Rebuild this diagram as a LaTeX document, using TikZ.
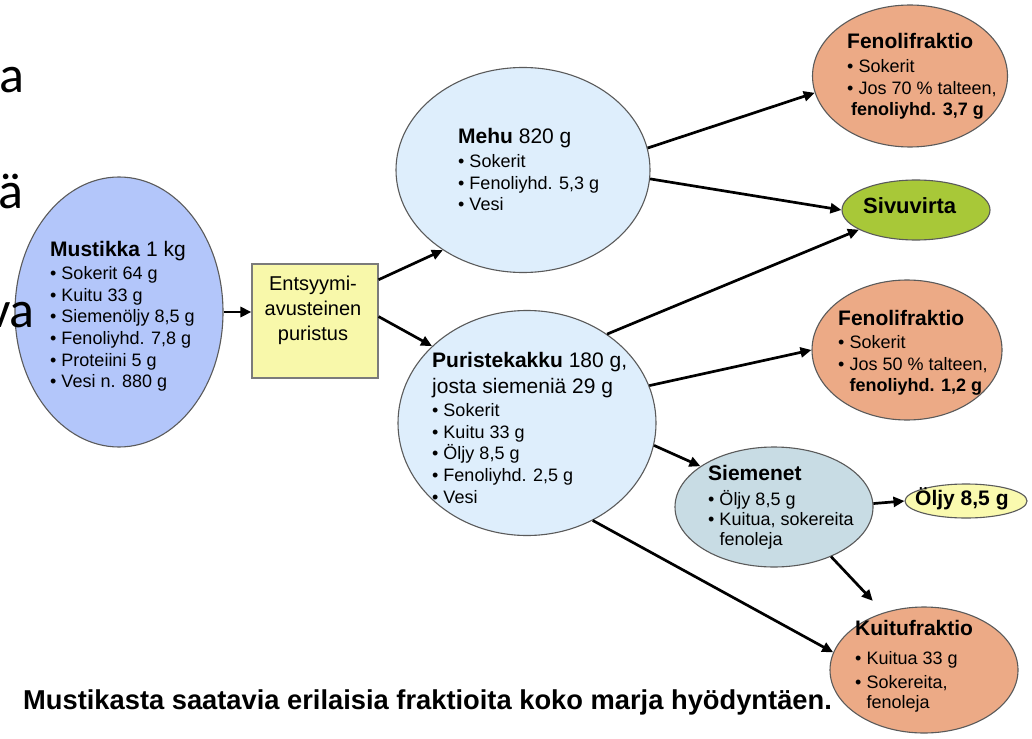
\documentclass[tikz,border=0pt]{standalone}
\usepackage{fontspec}
\setmainfont{Liberation Sans}
\newfontfamily\slidefont{Carlito}
\usepackage{tikz}
\usetikzlibrary{arrows.meta,shapes.geometric}
\definecolor{bc}{HTML}{B3C6FA}
\definecolor{jc}{HTML}{DEEEFC}
\definecolor{fc}{HTML}{ECAA86}
\definecolor{gc}{HTML}{A8C838}
\definecolor{sc}{HTML}{C8DCE4}
\definecolor{oc}{HTML}{FAFAAF}
\definecolor{yc}{HTML}{F8F8AA}
\definecolor{lc}{HTML}{5A5A5A}
\newcommand{\fhead}[2]{{\fontsize{21}{25}\selectfont\textbf{#1}#2}}
\newcommand{\itm}{\textbullet\ }
\newcommand{\bind}{\hphantom{\textbullet\ }}

\begin{document}
\begin{tikzpicture}[
    x=1pt, y=-1pt,
    blob/.style={ellipse, draw=lc, line width=1.1pt, inner sep=0pt},
    proc/.style={draw=lc!80, fill=yc, line width=1.1pt, inner sep=0pt},
    txt/.style={align=left, anchor=north west, inner sep=0pt,
                font=\fontsize{18}{21.7}\selectfont},
    tag/.style={anchor=base west, inner sep=0pt,
                font=\fontsize{21}{25}\selectfont\bfseries},
    ar/.style={-{Triangle[length=11pt,width=10pt]}, line width=2.7pt},
    capt/.style={anchor=base west, inner sep=0pt,
                 font=\fontsize{27.3}{31}\selectfont\bfseries},
    frag/.style={anchor=base east, inner sep=0pt,
                 font=\slidefont\fontsize{52}{60}\selectfont}
]
\useasboundingbox (0,0) rectangle (1032,738);
\clip (0,0) rectangle (1032,738);
\fill[white] (0,0) rectangle (1032,738);

\node[blob, fill=bc, minimum width=208pt, minimum height=270pt] (must) at (119,312) {};
\node[proc, minimum width=126pt, minimum height=114pt]          (press) at (315,321) {};
\node[blob, fill=jc, minimum width=254pt, minimum height=205pt] (mehu) at (523,170) {};
\node[blob, fill=jc, minimum width=258pt, minimum height=225pt] (puri) at (527,423) {};
\node[blob, fill=fc, minimum width=195pt, minimum height=142pt] (fen1) at (910,76) {};
\node[blob, fill=gc, minimum width=148pt, minimum height=60pt]  (sivu) at (916,210) {};
\node[blob, fill=fc, minimum width=190pt, minimum height=140pt] (fen2) at (907,350) {};
\node[blob, fill=sc, minimum width=198pt, minimum height=120pt] (seed) at (774,507) {};
\node[blob, fill=oc, minimum width=122pt, minimum height=34pt]  (oil)  at (966,501) {};
\node[blob, fill=fc, minimum width=188pt, minimum height=126pt] (kuit) at (924,670) {};

\node[frag] (fragA) at (25,93)  {a};
\node[frag] (fragB) at (24,208) {ä};
\node[frag] (fragC) at (35,327) {va};

\node[txt] (mustTx) at (50,241) {\fhead{Mustikka}{ 1 kg}\\[1.3pt]
    \itm Sokerit 64 g\\ \itm Kuitu 33 g\\ \itm Siemenöljy 8,5 g\\
    \itm Fenoliyhd. 7,8 g\\ \itm Proteiini 5 g\\ \itm Vesi n. 880 g};
\node[align=center, anchor=north, inner sep=0pt, font=\fontsize{20}{25}\selectfont]
    (pressTx) at (313,275.6) {Entsyymi-\\avusteinen\\puristus};
\node[txt] (mehuTx) at (458,128) {\fhead{Mehu}{ 820 g}\\[2.3pt]
    \itm Sokerit\\ \itm Fenoliyhd. 5,3 g\\ \itm Vesi};
\node[txt] (puriTx) at (432,352) {\fhead{Puristekakku}{ 180 g,}\\[4.3pt]
    \fhead{}{josta siemeniä 29 g}\\[1.3pt]
    \itm Sokerit\\ \itm Kuitu 33 g\\ \itm Öljy 8,5 g\\
    \itm Fenoliyhd. 2,5 g\\ \itm Vesi};
\node[txt] (fen1Tx) at (847,33) {\fhead{Fenolifraktio}{}\\[2.3pt]
    \itm Sokerit\\ \itm Jos 70 \% talteen,\\ \hspace*{4pt}\textbf{fenoliyhd. 3,7 g}};
\node[tag, font=\fontsize{22}{26}\selectfont\bfseries] (sivuTx) at (863,213) {Sivuvirta};
\node[txt] (fen2Tx) at (838,310) {\fhead{Fenolifraktio}{}\\[1.3pt]
    \itm Sokerit\\ \itm Jos 50 \% talteen,\\ \bind\textbf{fenoliyhd. 1,2 g}};
\node[txt] (seedTx) at (708,465) {\fhead{Siemenet}{}\\[3.3pt]
    \itm Öljy 8,5 g\\[-1.7pt] \itm Kuitua, sokereita\\[-1.7pt] \bind fenoleja};
\node[tag] (oilTx) at (915,505) {Öljy 8,5 g};
\node[txt] (kuitTx) at (855,620) {\fhead{Kuitufraktio}{}\\[7.3pt]
    \itm Kuitua 33 g\\[2.3pt] \itm Sokereita,\\[-1.7pt] \bind fenoleja};

\node[capt] (capTx) at (23,709)
    {Mustikasta saatavia erilaisia fraktioita koko marja hyödyntäen.};

\draw[ar] (must.east) -- (must.east -| press.west);
\draw[ar] (press.33) -- (mehu.225);
\draw[ar] (press.4)  -- (puri.141);
\draw[ar] (mehu.10)  -- (fen1.190);
\draw[ar] (mehu.-4)  -- (sivu.west);
\draw[ar] (puri.48)  -- (sivu.199);
\draw[ar] (puri.17)  -- (fen2.west);
\draw[ar] (puri.-10) -- (seed.151);
\draw[ar] (puri.-56) -- (kuit.169);
\draw[ar] (seed.2)   -- (oil.west);
\draw[ar, shorten >=16pt] (seed.-41) -- (kuit.125);
\end{tikzpicture}
\end{document}
